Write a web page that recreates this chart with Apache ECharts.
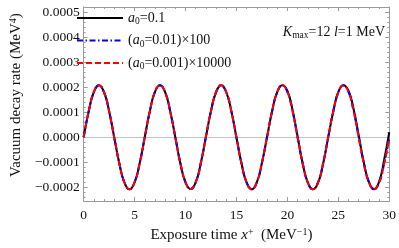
<!DOCTYPE html>
<html><head><meta charset="utf-8">
<script src="https://cdn.jsdelivr.net/npm/echarts@6/dist/echarts.min.js"></script>
<style>html,body{margin:0;padding:0;background:#fff}#c{width:399px;height:248px}</style>
</head><body><div id="c"></div>
<script>
// ---- data ----
const xValues = [0,0.5,1,1.5,2,2.5,3,3.5,4,4.5,5,5.5,6,6.5,7,7.5,8,8.5,9,9.5,10,10.5,11,11.5,12,12.5,13,13.5,14,14.5,15,15.5,16,16.5,17,17.5,18,18.5,19,19.5,20,20.5,21,21.5,22,22.5,23,23.5,24,24.5,25,25.5,26,26.5,27,27.5,28,28.5,29,29.5,30];
const blackValues = [
 0, 0.000104, 0.00018, 0.000208, 0.00018, 0.000104, 0, -0.000104, -0.00018, -0.000208, -0.00018, -0.000104,
 0, 0.000104, 0.000181, 0.000208, 0.00018, 0.000103, 0, -0.000105, -0.00018, -0.000207, -0.00018, -0.000104,
 0.000001, 0.000104, 0.00018, 0.000208, 0.00018, 0.000104, -0.000001, -0.000105, -0.000181, -0.000208, -0.00018, -0.000103,
 0, 0.000104, 0.00018, 0.000208, 0.000185, 0.000111, 0.000004, -0.000104, -0.00018, -0.000208, -0.000183, -0.000108,
 -0.000002, 0.000102, 0.00018, 0.000208, 0.000186, 0.000113, 0.000008, -0.0001, -0.000178, -0.000207, -0.000178, -0.00009,
 0.00002];
const blueValues = [
 0, 0.000104, 0.00018, 0.000208, 0.00018, 0.000104, 0, -0.000104, -0.00018, -0.000208, -0.00018, -0.000104,
 0, 0.000104, 0.000181, 0.000208, 0.00018, 0.000103, 0, -0.000105, -0.00018, -0.000207, -0.00018, -0.000104,
 0.000001, 0.000104, 0.00018, 0.000208, 0.00018, 0.000104, -0.000001, -0.000105, -0.000181, -0.000208, -0.00018, -0.000103,
 0, 0.000104, 0.00018, 0.000208, 0.000181, 0.000105, 0, -0.000104, -0.00018, -0.000208, -0.000181, -0.000105,
 -0.000001, 0.000103, 0.00018, 0.000208, 0.000181, 0.000105, 0.000001, -0.000104, -0.00018, -0.000208, -0.000182, -0.000106,
 -0.000002];
const redValues = [
 0, 0.000104, 0.00018, 0.000208, 0.00018, 0.000104, 0, -0.000104, -0.00018, -0.000208, -0.00018, -0.000104,
 0, 0.000104, 0.000181, 0.000208, 0.00018, 0.000103, 0, -0.000105, -0.00018, -0.000207, -0.00018, -0.000104,
 0.000001, 0.000104, 0.00018, 0.000208, 0.00018, 0.000104, -0.000001, -0.000105, -0.000181, -0.000208, -0.00018, -0.000103,
 0, 0.000104, 0.00018, 0.000208, 0.000181, 0.000105, 0, -0.000104, -0.00018, -0.000208, -0.000181, -0.000105,
 -0.000001, 0.000103, 0.00018, 0.000208, 0.000181, 0.000105, 0.000001, -0.000104, -0.00018, -0.000208, -0.000182, -0.000106,
 -0.000004];
const seriesNames = ['black', 'blue', 'red'];
const legendLabels = {
  black: '{i|a}{s|0}=0.1',
  blue: '({i|a}{s|0}=0.01)\u00d7100',
  red: '({i|a}{s|0}=0.001)\u00d710000'
};
const xTickLabels = [0, 5, 10, 15, 20, 25, 30];
const yTickLabels = [-0.0002, -0.0001, 0, 0.0001, 0.0002, 0.0003, 0.0004, 0.0005];

// ---- chart ----
const FONT = 'Liberation Serif';
const FRAME = '#9a9a9a';
const Y_MIN = -0.000255, Y_MAX = 0.00052;
const yMinor = [];
for (let k = -13; k <= 26; k++) { if (k % 5 !== 0) yMinor.push(k * 0.00002); }

function pairs(ys) { return xValues.map((x, i) => [x, ys[i]]); }
function yFmt(v) {
  const r = Math.round(v * 1e4);
  return (r < 0 ? '\u2212' : '') + (Math.abs(r) / 1e4).toFixed(4);
}
const nameRich = {
  i: { fontStyle: 'italic', fontSize: 15, fontFamily: FONT, color: '#111' },
  p: { fontSize: 10, fontFamily: FONT, color: '#111', padding: [0, 0, 7, 0] }
};
function xAxisCfg(pos, labels) {
  return {
    type: 'value', position: pos, min: xTickLabels[0], max: xTickLabels[xTickLabels.length - 1], interval: 5,
    axisLine: { show: true, onZero: false, lineStyle: { color: FRAME, width: 1 } },
    axisTick: { show: true, inside: true, length: 4, lineStyle: { color: FRAME } },
    minorTick: { show: true, splitNumber: 5, length: 2, lineStyle: { color: FRAME } },
    splitLine: { show: false },
    axisLabel: { show: labels, fontFamily: FONT, fontSize: 13.5, color: '#111', margin: 7 },
    name: labels ? 'Exposure time {i|x}{p|+}  (MeV{p|\u22121})' : '',
    nameLocation: 'middle', nameGap: 24,
    nameTextStyle: { fontFamily: FONT, fontSize: 15, color: '#111', padding: [0, 10, 0, 0], rich: nameRich }
  };
}
function yAxisCfg(pos, labels, minor) {
  return {
    type: 'value', position: pos, min: Y_MIN, max: Y_MAX,
    axisLine: { show: !minor, onZero: false, lineStyle: { color: FRAME, width: 1 } },
    axisTick: { show: true, inside: true, length: minor ? 2 : 4, lineStyle: { color: FRAME }, customValues: minor ? yMinor : yTickLabels },
    splitLine: { show: false },
    axisLabel: labels ? { show: true, customValues: yTickLabels, formatter: yFmt, fontFamily: FONT, fontSize: 13.5, color: '#111', margin: 4 } : { show: false },
    name: labels ? 'Vacuum decay rate (MeV{p|4})' : '',
    nameLocation: 'middle', nameGap: 52,
    nameTextStyle: { fontFamily: FONT, fontSize: 15, color: '#111', padding: [0, 0, 0, 18], rich: nameRich }
  };
}

const chart = echarts.init(document.getElementById('c'), null, { renderer: 'canvas' });
chart.setOption({
  animation: false,
  backgroundColor: '#fff',
  grid: { left: 74, right: 7, top: 7, bottom: 44 },
  xAxis: [xAxisCfg('bottom', true), xAxisCfg('top', false)],
  yAxis: [yAxisCfg('left', true, false), yAxisCfg('left', false, true), yAxisCfg('right', false, false), yAxisCfg('right', false, true)],
  legend: {
    orient: 'vertical', left: 76, top: 11, padding: 0, itemWidth: 46, itemHeight: 14, itemGap: 7,
    data: seriesNames,
    formatter: n => legendLabels[n],
    itemStyle: { color: 'rgba(0,0,0,0)', borderWidth: 0, opacity: 0 },
    textStyle: {
      fontFamily: FONT, fontSize: 14, color: '#111',
      rich: {
        i: { fontStyle: 'italic', fontFamily: FONT, fontSize: 14, color: '#111' },
        s: { fontFamily: FONT, fontSize: 9.5, color: '#111', padding: [7, 0, 0, 0] }
      }
    }
  },
  graphic: [{
    type: 'text', x: 385, y: 32,
    style: {
      text: '{i|K}{s|max}=12 {i|l}=1 MeV', textAlign: 'right', textVerticalAlign: 'middle',
      font: '14px "Liberation Serif"', fill: '#111',
      rich: {
        i: { fontStyle: 'italic', fontFamily: FONT, fontSize: 14, fill: '#111' },
        s: { fontFamily: FONT, fontSize: 9.5, fill: '#111', padding: [7, 0, 0, 0] }
      }
    }
  }],
  series: [
    { name: 'black', type: 'line', data: pairs(blackValues), smooth: true, symbol: 'none', z: 2,
      lineStyle: { color: '#000', width: 2 }, itemStyle: { color: '#000' },
      markLine: { silent: true, symbol: ['none', 'none'], label: { show: false }, z: 1,
        lineStyle: { color: '#c4c4c4', width: 1, type: 'solid' }, data: [{ yAxis: 0 }] } },
    { name: 'blue', type: 'line', data: pairs(blueValues), smooth: true, symbol: 'none', z: 3,
      lineStyle: { color: '#0000ff', width: 2, type: [6, 2.5, 1.5, 2.5] }, itemStyle: { color: '#0000ff' } },
    { name: 'red', type: 'line', data: pairs(redValues), smooth: true, symbol: 'none', z: 4,
      lineStyle: { color: '#ff0000', width: 2, type: [6, 3] }, itemStyle: { color: '#ff0000' } }
  ]
});
</script></body></html>
